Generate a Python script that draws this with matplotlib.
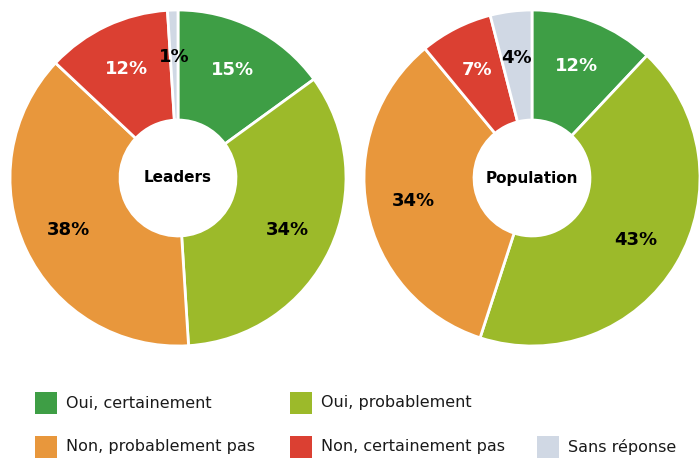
import matplotlib
matplotlib.use("Agg")
import matplotlib.pyplot as plt
from matplotlib.patches import Rectangle

# ── Data ───────────────────────────────────────────────────────────────────────
categories = ["Oui, certainement", "Oui, probablement", "Non, probablement pas",
              "Non, certainement pas", "Sans réponse"]
colors = ["#3e9e45", "#9cba2a", "#e8973c", "#db4032", "#d0d8e4"]
label_colors = ["white", "black", "black", "white", "black"]

leaders = [15, 34, 38, 12, 1]
population = [12, 43, 34, 7, 4]
titles = ["Leaders", "Population"]

W, H = 699, 458
fig = plt.figure(figsize=(W / 100, H / 100), dpi=100)
fig.patch.set_facecolor("white")


def px_axes(x0, y0, w, h):
    # pixel box (top-left origin) -> figure fraction
    return fig.add_axes([x0 / W, 1 - (y0 + h) / H, w / W, h / H])


def donut(ax, values, title):
    wedges, _ = ax.pie(values, colors=colors, startangle=90, counterclock=False,
                       radius=1.0,
                       wedgeprops=dict(width=0.655, edgecolor="white", linewidth=2))
    total = sum(values)
    import numpy as np
    angle = 90.0
    for v, c in zip(values, label_colors):
        mid = np.deg2rad(angle - v / total * 180)
        angle -= v / total * 360
        r = 0.72
        ax.text(r * np.cos(mid), r * np.sin(mid), f"{v}%", ha="center", va="center",
                fontsize=13, fontweight="bold", color=c)
    ax.text(0, 0, title, ha="center", va="center", fontsize=11, fontweight="bold")
    ax.set_xlim(-1, 1)
    ax.set_ylim(-1, 1)
    ax.axis("off")


ax1 = px_axes(10, 10, 336, 336)
donut(ax1, leaders, titles[0])
ax2 = px_axes(364, 10, 336, 336)
donut(ax2, population, titles[1])

# ── Legend ─────────────────────────────────────────────────────────────────────
leg_pos = [(35, 403), (290, 403), (35, 447), (290, 447), (537, 447)]
for (x, y), name, col in zip(leg_pos, categories, colors):
    fig.add_artist(Rectangle((x / W, 1 - (y + 11) / H), 22 / W, 22 / H,
                             transform=fig.transFigure, color=col, lw=0))
    fig.text((x + 31) / W, 1 - y / H, name, ha="left", va="center",
             fontsize=11.5, color="#1a1a1a")

fig.savefig("out.png", dpi=100)
